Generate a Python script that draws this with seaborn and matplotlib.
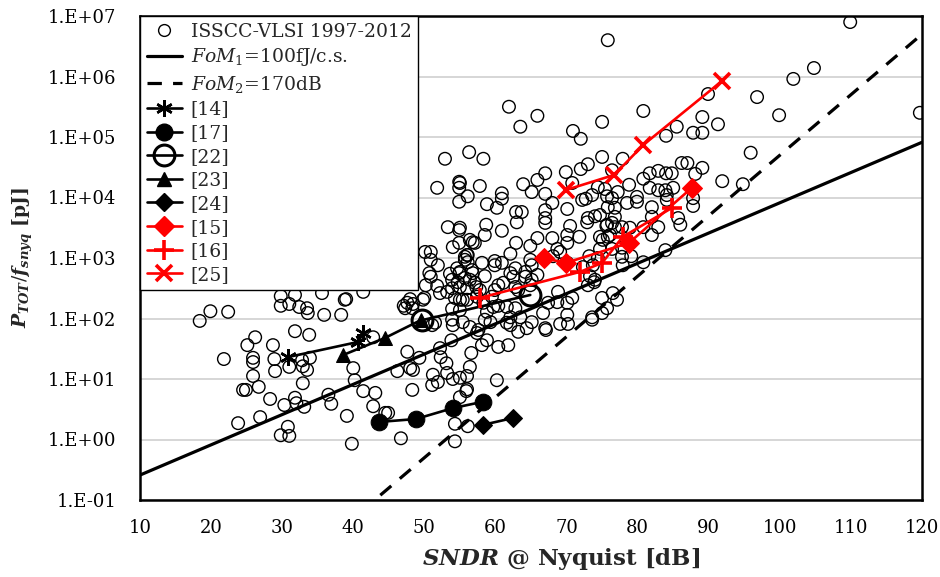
import numpy as np
import pandas as pd
import matplotlib
matplotlib.use("Agg")
import matplotlib.pyplot as plt
import seaborn as sns
from matplotlib.lines import Line2D
from matplotlib.ticker import FixedLocator, FuncFormatter, NullLocator

# ---------------- data ----------------
# survey scatter: SNDR [dB] and log10 of P/fsnyq [pJ]
scatter_sndr = [
    18.4, 19.9, 22.4, 29.8, 31.8, 29.8, 31.0, 32.4, 33.5, 33.6, 31.8, 33.8, 26.2, 25.1, 28.7,
    21.8, 25.9, 25.9, 28.9, 29.0, 31.0, 32.8, 33.9, 32.9, 33.5, 25.9, 24.5, 24.9, 26.7, 32.9,
    28.3, 30.3, 31.8, 32.0, 33.1, 26.9, 23.8, 30.8, 29.8, 31.0, 35.9, 38.3, 38.8, 47.1, 47.6,
    48.4, 49.8, 53.9, 55.4, 55.0, 58.8, 60.4, 61.6, 63.2, 64.4, 65.1, 51.1, 53.9, 55.4, 57.4,
    58.8, 60.4, 61.8, 42.8, 47.6, 49.3, 52.2, 52.3, 53.8, 56.6, 58.1, 40.0, 46.2, 48.0, 48.4,
    51.2, 51.1, 51.9, 53.1, 53.2, 54.0, 55.0, 56.4, 56.0, 60.2, 40.2, 36.5, 36.9, 41.4, 43.1,
    42.8, 44.5, 44.9, 48.3, 55.0, 56.0, 39.1, 39.8, 46.7, 54.3, 54.3, 56.1, 55.9, 59.3, 67.1,
    69.1, 70.2, 73.6, 52.9, 56.3, 51.8, 54.9, 54.9, 56.1, 54.9, 53.3, 54.9, 54.0, 54.9, 56.8,
    50.1, 50.9, 50.9, 51.9, 56.1, 55.7, 50.7, 50.9, 53.6, 54.6, 54.9, 56.7, 53.9, 54.7, 56.4,
    50.2, 51.8, 52.2, 53.2, 53.9, 56.0, 57.3, 50.0, 54.3, 56.0, 57.4, 48.0, 47.3, 48.3, 35.6,
    39.0, 41.4, 51.5, 54.0, 61.9, 63.5, 65.9, 70.9, 72.0, 75.0, 58.3, 75.0, 73.0, 72.0, 69.9,
    67.0, 65.9, 63.9, 57.8, 55.0, 60.9, 60.9, 65.1, 67.0, 68.0, 70.1, 70.8, 72.2, 72.7, 73.6,
    74.4, 75.4, 75.7, 76.4, 75.8, 58.8, 60.2, 62.9, 63.7, 67.0, 67.0, 67.0, 63.0, 58.7, 60.9,
    55.0, 56.4, 57.1, 58.5, 56.0, 56.1, 58.1, 59.9, 59.9, 60.9, 62.1, 62.9, 64.9, 65.9, 68.0,
    68.7, 70.1, 70.1, 70.5, 71.8, 72.9, 73.0, 74.0, 74.7, 75.6, 75.8, 76.4, 76.8, 76.4, 74.7,
    73.2, 74.4, 73.7, 68.1, 69.1, 70.1, 72.3, 73.3, 74.0, 62.8, 64.2, 64.9, 65.1, 62.1, 62.5,
    64.2, 60.4, 61.1, 62.8, 63.2, 65.9, 65.1, 64.9, 58.5, 56.8, 55.7, 57.1, 55.0, 55.0, 55.7,
    57.8, 59.9, 59.5, 58.3, 55.0, 59.7, 61.6, 62.8, 63.5, 62.1, 58.5, 57.6, 66.7, 68.8, 68.7,
    67.4, 70.1, 70.1, 70.8, 73.0, 73.9, 75.0, 76.5, 77.1, 73.6, 75.0, 62.1, 67.0, 56.4, 80.8,
    84.0, 85.5, 87.8, 89.1, 89.1, 91.3, 96.8, 89.9, 77.9, 76.4, 86.2, 87.0, 89.1, 88.1, 84.8,
    84.0, 82.9, 81.7, 80.8, 78.8, 77.2, 81.7, 82.9, 83.9, 85.0, 84.1, 84.1, 79.9, 79.9, 78.5,
    82.0, 87.8, 87.8, 91.9, 95.9, 94.8, 76.8, 74.7, 76.8, 75.7, 77.8, 78.9, 80.8, 82.0, 82.9,
    82.0, 85.7, 86.0, 76.1, 75.1, 77.8, 79.1, 77.8, 77.9, 80.8, 83.9, 75.7, 109.9, 104.8, 101.9,
    99.9, 119.7, 75.8,
]
scatter_log10_energy = [
    1.96, 2.12, 2.11, 2.37, 2.39, 2.21, 2.24, 2.19, 2.17, 2.09, 1.79, 1.73, 1.69, 1.56, 1.56,
    1.33, 1.35, 1.28, 1.33, 1.13, 1.20, 1.31, 1.35, 1.21, 1.15, 1.05, 0.82, 0.82, 0.87, 0.93,
    0.67, 0.57, 0.69, 0.60, 0.54, 0.37, 0.27, 0.21, 0.07, 0.06, 2.06, 2.06, 2.31, 2.21, 2.26,
    2.24, 2.31, 2.16, 2.31, 2.14, 2.11, 2.21, 1.93, 1.78, 1.84, 1.94, 1.89, 1.98, 1.94, 1.76,
    1.64, 1.53, 1.56, 1.69, 1.45, 1.35, 1.51, 1.36, 1.64, 1.43, 1.56, 1.18, 1.13, 1.18, 1.15,
    1.07, 0.90, 0.95, 1.26, 1.10, 1.00, 1.02, 1.20, 1.05, 0.98, 0.98, 0.74, 0.59, 0.80, 0.77,
    0.55, 0.44, 0.44, 0.82, 0.70, 0.83, 0.39, -0.07, 0.02, 0.26, -0.03, 0.22, 0.80, 1.94, 1.81,
    1.91, 1.91, 1.98, 4.64, 4.75, 4.16, 4.26, 4.16, 4.02, 3.93, 3.51, 3.46, 3.18, 3.25, 3.26,
    3.10, 3.10, 2.97, 2.88, 3.05, 2.97, 2.75, 2.69, 2.74, 2.83, 2.75, 2.80, 2.64, 2.60, 2.64,
    2.55, 2.54, 2.42, 2.44, 2.50, 2.50, 2.52, 2.34, 2.34, 2.31, 2.36, 2.32, 2.17, 2.17, 2.42,
    2.32, 2.44, 1.93, 1.89, 5.50, 5.17, 5.35, 5.10, 4.97, 5.25, 4.64, 4.67, 4.55, 4.47, 4.42,
    4.40, 4.29, 4.22, 4.19, 4.24, 4.07, 3.98, 4.09, 4.06, 3.91, 3.81, 4.24, 3.96, 3.98, 4.04,
    4.17, 4.14, 4.02, 3.99, 3.84, 3.89, 3.83, 3.76, 3.76, 3.79, 3.66, 3.58, 3.59, 3.55, 3.45,
    3.50, 3.30, 3.25, 3.38, 3.05, 2.93, 2.92, 2.95, 2.88, 2.92, 3.07, 3.25, 3.20, 3.33, 3.33,
    3.15, 3.38, 3.25, 3.53, 3.35, 3.59, 3.66, 3.69, 3.35, 3.53, 3.35, 3.58, 3.51, 3.15, 3.15,
    3.03, 3.00, 2.88, 3.03, 3.10, 2.92, 2.85, 2.70, 2.64, 2.83, 2.77, 2.97, 2.88, 2.75, 2.69,
    2.69, 2.55, 2.59, 2.52, 2.47, 2.72, 2.64, 2.55, 2.70, 2.75, 2.67, 2.59, 2.52, 2.77, 3.02,
    2.47, 2.47, 2.36, 2.26, 2.31, 2.19, 2.19, 2.17, 2.02, 2.02, 1.98, 1.81, 2.09, 2.44, 2.27,
    2.26, 2.26, 2.06, 2.34, 2.55, 2.60, 2.34, 2.42, 2.31, 2.02, 2.09, 1.89, 1.84, 1.86, 5.43,
    5.02, 5.17, 5.07, 5.07, 5.33, 5.21, 5.66, 5.71, 4.64, 4.45, 4.57, 4.57, 4.49, 4.39, 4.40,
    4.40, 4.44, 4.40, 4.31, 4.21, 4.09, 4.16, 4.12, 4.12, 4.16, 4.04, 3.96, 4.01, 3.93, 3.91,
    3.84, 3.99, 3.86, 4.27, 4.74, 4.22, 3.83, 3.71, 3.68, 3.55, 3.51, 3.50, 3.51, 3.68, 3.51,
    3.38, 3.66, 3.55, 3.38, 3.30, 3.17, 3.03, 3.02, 2.88, 2.93, 3.13, 2.17, 6.90, 6.14, 5.96,
    5.36, 5.40, 6.60,
]

# figure-of-merit reference lines
fom_sndr = [10, 120]
fom1_fj = 100.0     # Walden FoM, fJ / conversion step
fom2_db = 170.0     # Schreier FoM, dB

# highlighted designs: SNDR [dB], P/fsnyq [pJ]
s14_sndr, s14_e = [30.8, 40.7, 41.4], [23, 41, 58]
s17_sndr, s17_e = [43.6, 48.8, 54.0, 58.2], [1.95, 2.18, 3.3, 4.2]
s22_sndr, s22_e = [49.7, 64.9], [94, 245]
s23_sndr, s23_e = [38.6, 44.5, 49.5], [25, 48, 94]
s24_sndr, s24_e = [58.2, 62.5], [1.74, 2.27]
s15_sndr, s15_e = [66.8, 69.9, 78.8, 87.6], [1000, 830, 1780, 14400]
s16_sndr, s16_e = [57.8, 71.9, 75.0, 77.9, 84.8], [219, 590, 830, 2240, 6700]
s25_sndr, s25_e = [69.9, 76.7, 80.8, 91.9], [13300, 23600, 74000, 850000]

x_ticks = [10, 20, 30, 40, 50, 60, 70, 80, 90, 100, 110, 120]
y_ticks = [1e-1, 1e0, 1e1, 1e2, 1e3, 1e4, 1e5, 1e6, 1e7]

# ---------------- style ----------------
sns.set_theme(style="white")
plt.rcParams['font.family'] = ['DejaVu Serif']
plt.rcParams['mathtext.fontset'] = 'custom'
plt.rcParams['mathtext.rm'] = 'DejaVu Serif'
plt.rcParams['mathtext.it'] = 'DejaVu Serif:italic'
plt.rcParams['mathtext.bf'] = 'DejaVu Serif:bold'
has_bfit = 'mathtext.bfit' in plt.rcParams
if has_bfit:
    plt.rcParams['mathtext.bfit'] = 'DejaVu Serif:italic:bold'
BI = r'\mathbfit' if has_bfit else r'\mathbf'

fig = plt.figure(figsize=(9.4, 5.77), dpi=100)
ax = fig.add_axes([140 / 940, 1 - 500 / 577, (922 - 140) / 940, (500 - 16) / 577])

df = pd.DataFrame({"sndr": scatter_sndr,
                   "energy": 10 ** np.array(scatter_log10_energy)})
sns.scatterplot(data=df, x="sndr", y="energy", ax=ax, marker="o", s=82,
                facecolor="none", edgecolor="black", linewidth=1.0, zorder=3,
                legend=False)

fom_x = np.array(fom_sndr, dtype=float)
fom1_e = fom1_fj * 1e-3 * 2 ** ((fom_x - 1.76) / 6.02)          # pJ
fom2_e = 0.5 * 10 ** ((fom_x - fom2_db) / 10) * 1e12            # pJ
sns.lineplot(x=fom_x, y=fom1_e, ax=ax, color="black", linewidth=2.3,
             sort=False, estimator=None, zorder=4)
sns.lineplot(x=fom_x, y=fom2_e, ax=ax, color="black", linewidth=2.3,
             sort=False, estimator=None, zorder=4)
ax.lines[-1].set_dashes([4.5, 3.5])

series = [
    ("[14]", s14_sndr, s14_e, "black", dict(marker=(6, 2, 0), markersize=12, markeredgewidth=1.8)),
    ("[17]", s17_sndr, s17_e, "black", dict(marker="o", markersize=12)),
    ("[22]", s22_sndr, s22_e, "black", dict(marker="o", markersize=15, markerfacecolor="none",
                                             markeredgewidth=2.2)),
    ("[23]", s23_sndr, s23_e, "black", dict(marker="^", markersize=10)),
    ("[24]", s24_sndr, s24_e, "black", dict(marker="D", markersize=9)),
    ("[15]", s15_sndr, s15_e, "red", dict(marker="D", markersize=10)),
    ("[16]", s16_sndr, s16_e, "red", dict(marker="+", markersize=14, markeredgewidth=2.6)),
    ("[25]", s25_sndr, s25_e, "red", dict(marker="x", markersize=11, markeredgewidth=2.6)),
]
handles = [
    Line2D([], [], linestyle="none", marker="o", markersize=8.5, markerfacecolor="none",
           markeredgecolor="black", markeredgewidth=1.0),
    Line2D([], [], color="black", linewidth=2.3),
    Line2D([], [], color="black", linewidth=2.3, dashes=[4.5, 3.5]),
]
labels = ["ISSCC-VLSI 1997-2012",
          r"$\mathit{FoM}_{\mathit{1}}$=100fJ/c.s.",
          r"$\mathit{FoM}_{\mathit{2}}$=170dB"]
for name, xs, ys, col, mk in series:
    sns.lineplot(x=xs, y=ys, ax=ax, color=col, linewidth=1.9, sort=False,
                 estimator=None, zorder=5, markeredgecolor=col, **mk)
    handles.append(Line2D([], [], color=col, linewidth=1.9, markeredgecolor=col, **mk))
    labels.append(name)

ax.set_yscale("log")
ax.set_xlim(10, 120)
ax.set_ylim(1e-1, 1e7)
ax.xaxis.set_major_locator(FixedLocator(x_ticks))
ax.yaxis.set_major_locator(FixedLocator(y_ticks))
ax.yaxis.set_minor_locator(NullLocator())
ax.yaxis.set_major_formatter(FuncFormatter(lambda v, p: "1.E%+03d" % int(round(np.log10(v)))))
ax.xaxis.set_major_formatter(FuncFormatter(lambda v, p: "%d" % v))

ax.grid(axis="y", color="#d0d0d0", linewidth=1.2)
ax.grid(axis="x", visible=False)
ax.set_axisbelow(True)
for sp in ax.spines.values():
    sp.set_color("black")
    sp.set_linewidth(1.8)
ax.tick_params(axis="both", which="major", direction="out", length=5, width=1,
               color="#909090", labelsize=13, labelcolor="black")
ax.tick_params(axis="y", pad=12)
ax.tick_params(axis="x", pad=9)

ax.set_xlabel(r"$" + BI + r"{SNDR}$ @ Nyquist [dB]", fontsize=16.5, fontweight="bold")
ax.xaxis.set_label_coords((561 - 140) / 782, -0.095)
ax.set_ylabel(r"$" + BI + r"{P}_{" + BI + r"{TOT}}/" + BI + r"{f}_{" + BI + r"{snyq}}$ [pJ]",
              fontsize=13.5, fontweight="bold", labelpad=9)

leg = ax.legend(handles, labels, loc="upper left", bbox_to_anchor=(0, 1),
                borderaxespad=0, frameon=True, fancybox=False, framealpha=1,
                edgecolor="black", fontsize=13.5, handlelength=1.9, handletextpad=0.45,
                labelspacing=0.3, borderpad=0.35)
leg.get_frame().set_linewidth(1.0)
leg.set_zorder(10)

fig.savefig("out.png", dpi=100)
